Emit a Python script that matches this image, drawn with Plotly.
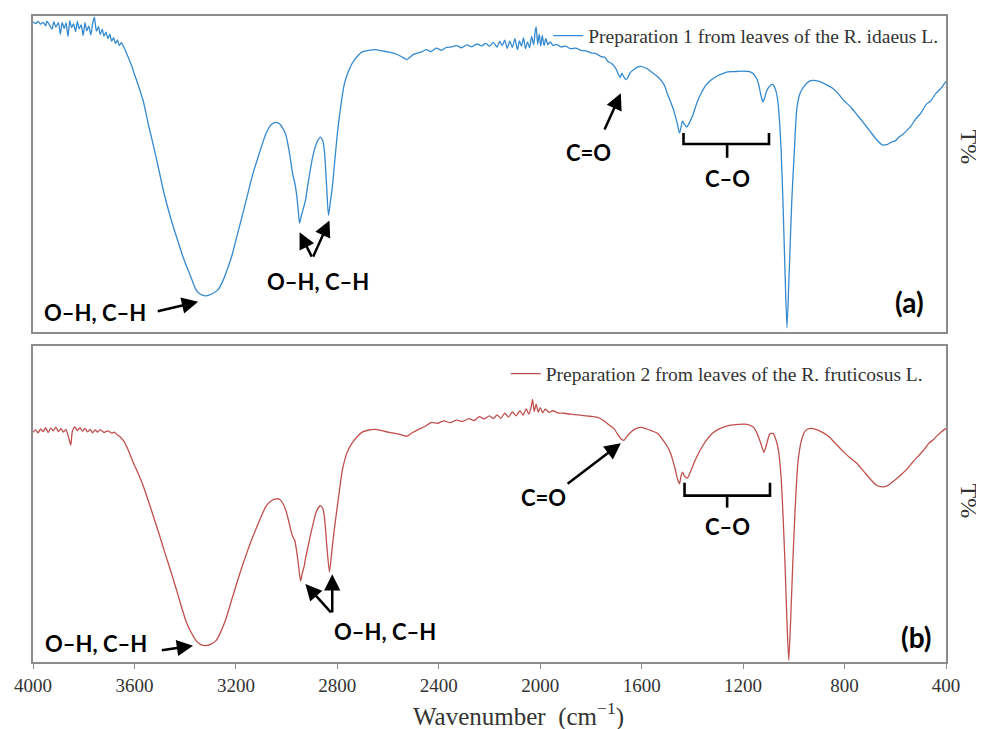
import plotly.graph_objects as go

# ---------------- data ----------------
wn_a = [4000, 3990, 3980, 3970, 3960, 3950, 3945, 3935, 3925, 3918, 3910, 3900, 3892, 3885, 3877,
        3870, 3862, 3855, 3848, 3840, 3832, 3825, 3818, 3810, 3802, 3795, 3788, 3780, 3772, 3765,
        3758, 3750, 3742, 3735, 3727, 3720, 3712, 3705, 3697, 3690, 3682, 3675, 3667, 3660, 3652,
        3643, 3625, 3610, 3600, 3585, 3565, 3545, 3525, 3505, 3486, 3465, 3445, 3425, 3408, 3380,
        3357, 3340, 3318, 3295, 3271, 3250, 3235, 3215, 3200, 3170, 3133, 3105, 3082, 3060, 3043,
        3025, 3004, 2992, 2985, 2976, 2968, 2960, 2954, 2949, 2942, 2935, 2926, 2912, 2898, 2882,
        2867, 2858, 2851, 2843, 2835, 2828, 2820, 2810, 2800, 2787, 2773, 2758, 2742, 2720, 2702,
        2680, 2651, 2620, 2600, 2573, 2550, 2535, 2526, 2515, 2500, 2480, 2467, 2450, 2430, 2410,
        2390, 2370, 2349, 2330, 2310, 2290, 2270, 2250, 2231, 2215, 2200, 2185, 2170, 2160, 2150,
        2140, 2130, 2120, 2110, 2100, 2090, 2082, 2074, 2066, 2058, 2050, 2042, 2034, 2026, 2020,
        2016, 2010, 2004, 1998, 1992, 1985, 1978, 1970, 1960, 1950, 1935, 1920, 1900, 1880, 1860,
        1839, 1820, 1800, 1780, 1760, 1745, 1733, 1720, 1710, 1700, 1692, 1685, 1678, 1670, 1662,
        1655, 1645, 1630, 1615, 1604, 1580, 1553, 1535, 1520, 1508, 1498, 1485, 1475, 1465, 1459,
        1451, 1445, 1439, 1431, 1423, 1412, 1400, 1380, 1365, 1350, 1335, 1318, 1300, 1280, 1260,
        1239, 1200, 1175, 1161, 1152, 1145, 1138, 1133, 1127, 1122, 1115, 1108, 1102, 1092, 1082,
        1072, 1063, 1056, 1050, 1043, 1035, 1027, 1018, 1008, 998, 988, 975, 960, 940, 925,
        900, 880, 847, 825, 800, 775, 753, 725, 700, 675, 651, 630, 612, 600, 585,
        570, 557, 540, 520, 500, 478, 460, 440, 420, 400]
t_a = [98.1, 97.6, 98.3, 97.4, 98.0, 96.9, 98.4, 97.2, 95.8, 98.2, 96.5, 97.9, 94.2, 98.0, 96.0,
       97.8, 93.5, 98.5, 96.3, 97.5, 95.0, 98.3, 95.9, 97.2, 93.8, 97.9, 95.3, 96.8, 94.0, 97.5,
       99.6, 95.2, 96.6, 94.1, 95.8, 93.6, 94.9, 92.8, 94.2, 92.0, 93.1, 91.2, 92.4, 90.6, 91.5,
       90.3, 87.0, 84.0, 81.5, 78.0, 72.9, 65.5, 58.7, 51.5, 44.5, 38.0, 32.5, 27.5, 23.3, 17.5,
       12.9, 11.5, 11.0, 11.6, 12.9, 16.0, 19.2, 24.0, 28.7, 38.0, 49.8, 57.0, 62.5, 65.5, 66.2,
       65.5, 62.5, 58.0, 54.5, 49.8, 47.0, 42.9, 38.0, 34.1, 36.5, 38.5, 41.3, 48.5, 54.9, 59.5,
       61.5, 60.5, 57.1, 47.0, 36.6, 40.5, 45.4, 54.0, 62.5, 71.0, 78.2, 82.0, 84.9, 87.3, 88.6,
       89.0, 89.3, 88.8, 88.6, 88.0, 87.2, 86.5, 86.1, 86.8, 87.8, 88.3, 88.6, 89.3, 88.7, 89.8,
       89.1, 90.0, 90.2, 90.6, 89.9, 90.8, 90.2, 91.1, 90.5, 91.3, 90.4, 91.6, 90.1, 91.9, 90.6,
       92.3, 89.7, 92.0, 90.0, 92.8, 89.3, 92.1, 90.4, 93.0, 89.6, 91.8, 89.9, 93.5, 90.8, 95.0,
       96.5, 91.0, 94.2, 90.4, 93.8, 90.6, 92.9, 90.9, 91.8, 90.6, 91.0, 90.2, 90.4, 89.6, 89.8,
       89.1, 88.9, 88.3, 88.0, 87.1, 86.9, 85.5, 85.0, 84.2, 83.0, 81.5, 80.4, 81.8, 80.6, 79.8,
       80.3, 82.0, 83.0, 83.8, 84.0, 83.3, 81.7, 80.5, 79.2, 77.5, 75.1, 72.5, 70.3, 67.5, 65.6,
       62.8, 64.5, 66.6, 65.5, 64.7, 66.0, 68.1, 72.9, 75.5, 77.6, 79.0, 80.1, 81.0, 81.7, 82.2,
       82.3, 82.5, 82.3, 81.7, 80.8, 79.8, 78.0, 76.0, 74.0, 72.6, 74.0, 76.0, 77.0, 78.0, 78.2,
       76.5, 72.9, 66.0, 57.1, 41.3, 19.2, 0.9, 19.2, 41.3, 57.1, 70.7, 75.5, 77.6, 79.2, 79.5,
       79.2, 78.5, 77.0, 75.3, 72.9, 71.0, 68.8, 66.0, 63.4, 60.8, 59.0, 59.2, 60.0, 60.3, 61.5,
       62.4, 63.4, 64.8, 67.2, 69.0, 71.9, 73.0, 75.4, 77.0, 79.2]

wn_b = [4000, 3990, 3980, 3970, 3960, 3950, 3940, 3930, 3920, 3910, 3900, 3890, 3880, 3870, 3860,
        3851, 3845, 3835, 3825, 3815, 3805, 3795, 3785, 3775, 3765, 3755, 3745, 3735, 3720, 3705,
        3690, 3680, 3668, 3655, 3640, 3625, 3604, 3580, 3560, 3540, 3525, 3500, 3480, 3459, 3440,
        3420, 3396, 3375, 3357, 3340, 3318, 3298, 3278, 3260, 3240, 3212, 3185, 3160, 3133, 3105,
        3082, 3060, 3040, 3027, 3010, 2996, 2985, 2976, 2968, 2960, 2952, 2945, 2938, 2930, 2926,
        2912, 2898, 2882, 2867, 2858, 2851, 2842, 2831, 2822, 2812, 2795, 2780, 2762, 2742, 2720,
        2702, 2680, 2651, 2620, 2600, 2573, 2550, 2526, 2505, 2480, 2455, 2428, 2405, 2380, 2355,
        2330, 2305, 2282, 2260, 2240, 2220, 2200, 2185, 2170, 2155, 2140, 2125, 2110, 2095, 2080,
        2068, 2055, 2045, 2036, 2030, 2024, 2016, 2008, 2000, 1990, 1980, 1965, 1950, 1930, 1906,
        1880, 1850, 1820, 1790, 1773, 1750, 1730, 1710, 1695, 1682, 1670, 1660, 1650, 1630, 1604,
        1580, 1560, 1537, 1515, 1500, 1486, 1470, 1458, 1451, 1445, 1439, 1430, 1420, 1405, 1390,
        1369, 1345, 1320, 1290, 1250, 1220, 1184, 1160, 1145, 1130, 1118, 1105, 1095, 1082, 1070,
        1060, 1050, 1042, 1035, 1027, 1020, 1012, 1004, 995, 984, 970, 955, 937, 910, 880,
        859, 830, 800, 775, 753, 725, 700, 675, 651, 630, 610, 585, 557, 530, 500,
        485, 467, 450, 435, 420, 400]
t_b = [72.6, 73.3, 72.4, 73.6, 72.8, 74.0, 72.5, 73.9, 73.0, 74.2, 72.8, 73.7, 72.6, 73.5, 71.0,
       68.5, 72.8, 74.3, 73.1, 74.0, 72.9, 73.8, 72.7, 73.5, 72.4, 73.3, 72.6, 73.4, 72.5, 73.0,
       72.3, 72.6, 71.8, 71.0, 69.5, 67.0, 62.8, 58.5, 54.3, 49.5, 45.7, 39.5, 34.2, 29.0, 24.0,
       18.5, 12.3, 8.7, 6.3, 5.1, 4.7, 5.2, 6.3, 9.0, 13.0, 20.5, 27.5, 33.5, 39.4, 44.8,
       48.9, 50.8, 51.4, 51.2, 49.2, 45.7, 42.0, 39.4, 38.2, 34.5, 29.5, 25.2, 27.8, 30.2, 32.2,
       37.5, 42.6, 47.5, 49.2, 48.4, 45.7, 37.0, 28.1, 34.5, 41.6, 52.0, 60.6, 66.0, 69.1, 71.3,
       72.6, 73.2, 73.5, 73.0, 72.6, 72.2, 71.8, 71.3, 72.4, 73.5, 74.4, 75.7, 75.4, 76.2, 75.6,
       76.4, 76.0, 76.9, 76.3, 77.5, 76.8, 77.8, 76.9, 78.1, 77.0, 78.6, 77.4, 79.0, 77.8, 79.4,
       78.0, 80.0, 78.3, 80.5, 83.0, 79.2, 81.5, 79.0, 80.4, 78.8, 79.9, 78.9, 79.4, 78.7, 78.6,
       78.3, 78.1, 77.8, 77.5, 77.3, 76.3, 75.0, 73.8, 72.0, 70.5, 70.0, 71.0, 72.0, 73.4, 74.1,
       73.6, 73.0, 72.2, 70.0, 68.2, 65.9, 61.5, 57.5, 56.2, 58.5, 59.9, 58.5, 58.0, 60.5, 63.5,
       66.9, 70.0, 72.3, 73.8, 74.8, 75.1, 75.1, 74.2, 72.2, 69.0, 66.2, 69.5, 72.0, 72.2, 70.0,
       66.5, 58.0, 45.0, 31.2, 12.0, 0.0, 14.0, 31.2, 48.0, 62.8, 70.0, 73.0, 73.8, 73.4, 72.2,
       71.0, 68.5, 66.0, 64.2, 62.8, 60.2, 57.8, 55.8, 55.2, 55.6, 56.8, 58.5, 60.6, 63.2, 65.8,
       67.2, 69.1, 70.2, 71.5, 72.6, 73.8]

x_ticks = [4000, 3600, 3200, 2800, 2400, 2000, 1600, 1200, 800, 400]
name_a = "Preparation 1 from leaves of the R. idaeus L."
name_b = "Preparation 2 from leaves of the R. fruticosus L."

BLUE = "#3489cf"
RED = "#c0504d"
SERIF = "Liberation Serif, Times New Roman, serif"
SANS = "Lato, Carlito, Open Sans, sans-serif"

fig = go.Figure()
fig.add_trace(go.Scatter(x=wn_a, y=t_a, mode="lines", name=name_a,
                         line=dict(color=BLUE, width=1.3, shape="spline", smoothing=0.6),
                         xaxis="x", yaxis="y", legend="legend"))
fig.add_trace(go.Scatter(x=wn_b, y=t_b, mode="lines", name=name_b,
                         line=dict(color=RED, width=1.3, shape="spline", smoothing=0.6),
                         xaxis="x2", yaxis="y2", legend="legend2"))

axcommon = dict(range=[4000, 400], showline=True, linecolor="#8c8c8c", linewidth=1.5, mirror=True,
                showgrid=False, zeroline=False)
ycommon = dict(range=[-0.5, 100], showline=True, linecolor="#8c8c8c", linewidth=1.5, mirror=True,
               showgrid=False, zeroline=False, showticklabels=False, ticks="")

fig.update_layout(
    width=976, height=721,
    margin=dict(l=21, r=38, t=6, b=67),
    paper_bgcolor="white", plot_bgcolor="white",
    xaxis=dict(**axcommon, anchor="y", showticklabels=False, ticks=""),
    yaxis=dict(**ycommon, domain=[0.5108, 1.0], anchor="x"),
    xaxis2=dict(**axcommon, anchor="y2", tickvals=x_ticks, ticks="outside", ticklen=5,
                tickcolor="#8c8c8c", tickfont=dict(family=SERIF, size=19, color="#333333")),
    yaxis2=dict(**ycommon, domain=[0.0, 0.4892], anchor="x2"),
    legend=dict(x=0.997, y=0.969, xanchor="right", yanchor="middle", bgcolor="rgba(0,0,0,0)",
                font=dict(family=SERIF, size=19.5, color="#333333"), itemwidth=30),
    legend2=dict(x=0.980, y=0.446, xanchor="right", yanchor="middle", bgcolor="rgba(0,0,0,0)",
                 font=dict(family=SERIF, size=19.5, color="#333333"), itemwidth=30),
    showlegend=True,
)

ann = []


def text(x, y, s, xr, yr, size=22):
    ann.append(dict(x=x, y=y, xref=xr, yref=yr, text="<b>" + s + "</b>", showarrow=False,
                    font=dict(family=SANS, size=size, color="black")))


def arrow(x0, y0, x1, y1, xr, yr):
    ann.append(dict(x=x1, y=y1, ax=x0, ay=y0, xref=xr, yref=yr, axref=xr, ayref=yr, text="",
                    showarrow=True, arrowhead=2, arrowsize=1.3, arrowwidth=2.5, arrowcolor="black"))


# panel (a)
text(3757, 5.7, "O–H, C–H", "x", "y")
arrow(3514, 6.0, 3349, 9.1, "x", "y")
arrow(2898, 23.0, 2949, 31.2, "x", "y")
arrow(2898, 23.0, 2831, 35.0, "x", "y")
text(2878, 15.5, "O–H, C–H", "x", "y")
text(1808, 56.5, "C=O", "x", "y")
arrow(1749, 63.4, 1682, 75.4, "x", "y")
text(1263, 48.3, "C–O", "x", "y")
text(545, 9.1, "(a)", "x", "y", size=28)

# panel (b)
text(3753, 5.4, "O–H, C–H", "x2", "y2")
arrow(3498, 3.2, 3369, 4.7, "x2", "y2")
arrow(2820, 14.8, 2926, 24.3, "x2", "y2")
arrow(2820, 14.8, 2820, 27.4, "x2", "y2")
text(2612, 9.1, "O–H, C–H", "x2", "y2")
text(1988, 51.7, "C=O", "x2", "y2")
arrow(1898, 55.8, 1682, 69.1, "x2", "y2")
text(1263, 42.6, "C–O", "x2", "y2")
text(518, 7.6, "(b)", "x2", "y2", size=28)

# T% labels and x title
ann.append(dict(x=1.0, xref="paper", xshift=23, xanchor="center", y=0.798, yref="paper",
                yanchor="middle", text="T%", textangle=90,
                showarrow=False, font=dict(family=SERIF, size=24, color="#333333")))
ann.append(dict(x=1.0, xref="paper", xshift=23, xanchor="center", y=0.25, yref="paper",
                yanchor="middle", text="T%", textangle=90,
                showarrow=False, font=dict(family=SERIF, size=24, color="#333333")))
ann.append(dict(x=0.532, xref="paper", y=-0.082, yref="paper", yanchor="middle",
                text="Wavenumber  (cm<sup>−1</sup>)", showarrow=False,
                font=dict(family=SERIF, size=25, color="#333333")))
fig.update_layout(annotations=ann)

# C–O brackets
shapes = []
for xr, yr, xl, xrt, ytop, ybar, ystem in [("x", "y", 1435, 1098, 62.8, 59.3, 54.9),
                                            ("x2", "y2", 1431, 1094, 56.5, 52.4, 48.6)]:
    shapes.append(dict(type="path", xref=xr, yref=yr,
                       path=f"M {xl},{ytop} L {xl},{ybar} L {xrt},{ybar} L {xrt},{ytop}",
                       line=dict(color="black", width=2.6)))
    shapes.append(dict(type="line", xref=xr, yref=yr, x0=1263, x1=1263, y0=ybar, y1=ystem,
                       line=dict(color="black", width=2.6)))
fig.update_layout(shapes=shapes)

fig.write_html("out.html")
